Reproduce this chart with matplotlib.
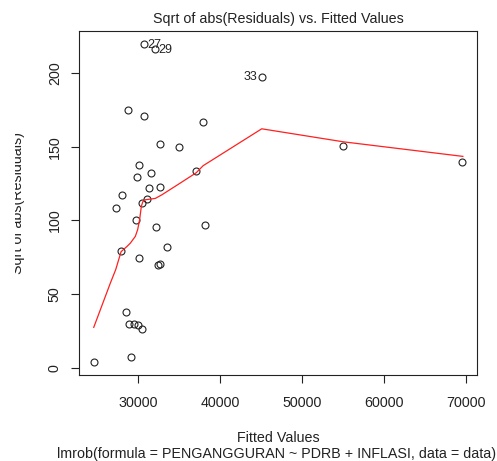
import matplotlib
matplotlib.use("Agg")
import matplotlib.pyplot as plt
from matplotlib.transforms import Bbox

plt.rcParams['font.family'] = ['Liberation Sans', 'DejaVu Sans']

# Fitted values and sqrt(|residuals|)
fitted = [30682, 32107, 45103, 28782, 30767, 37917, 32631, 35030, 30073, 29878,
          31535, 37016, 31340, 32631, 28088, 31096, 30524, 27272, 29756, 32144,
          38161, 27929, 33483, 30073, 32436, 32680, 28538, 28940, 29464, 29951,
          30524, 29099, 24592, 55042, 69585]
sqrt_abs_resid = [219.7, 216.1, 196.9, 175.0, 170.7, 166.9, 151.5, 149.7, 137.3, 129.1,
                  132.1, 133.7, 121.7, 122.6, 117.4, 114.7, 112.0, 108.6, 100.5, 95.7,
                  96.9, 79.5, 82.0, 74.5, 69.5, 70.2, 37.9, 29.8, 30.0, 28.9,
                  26.2, 7.7, 3.8, 150.4, 139.6]

# Smoother (lowess) line
smooth_x = [24592, 26626, 27272, 27929, 28660, 29062, 29671, 29951, 30195, 30402,
            30585, 30889, 32107, 32923, 35152, 37101, 37953, 45103, 55042, 69658]
smooth_y = [27.5, 57.6, 66.6, 78.8, 82.4, 84.6, 89.2, 93.7, 100.5, 109.5,
            112.7, 114.0, 114.9, 117.4, 125.3, 132.3, 137.1, 162.1, 153.3, 143.4]

# Labelled points
id_labels = ["27", "29", "33"]
id_x = [30682, 32107, 45103]
id_y = [219.7, 216.1, 196.9]
id_side = ["right", "right", "left"]

x_ticks = [30000, 40000, 50000, 60000, 70000]
y_ticks = [0, 50, 100, 150, 200]

W, H = 497, 461
fig = plt.figure(figsize=(W / 100, H / 100), dpi=100)
L, R, T, B = 79, 477, 31, 375
ax = fig.add_axes([L / W, 1 - B / H, (R - L) / W, (B - T) / H])

ax.plot(fitted, sqrt_abs_resid, linestyle='none', marker='o', markersize=5.0,
        markerfacecolor='none', markeredgecolor='#222222', markeredgewidth=0.8)
ax.plot(smooth_x, smooth_y, color='#ff2020', linewidth=0.9)

for lab, x, y, side in zip(id_labels, id_x, id_y, id_side):
    if side == "right":
        ax.annotate(lab, (x, y), xytext=(2.5, -0.8), textcoords='offset points',
                    ha='left', va='center', fontsize=9.0, color='#222222')
    else:
        ax.annotate(lab, (x, y), xytext=(-3, 0), textcoords='offset points',
                    ha='right', va='center', fontsize=9.0, color='#222222')

ax.set_xlim(22792, 71385)
ax.set_ylim(-4.8, 228.4)
ax.set_xticks(x_ticks)
ax.set_xticklabels([str(v) for v in x_ticks])
ax.set_yticks(y_ticks)
ax.set_yticklabels([str(v) for v in y_ticks], rotation=90, va='center')

for s in ax.spines.values():
    s.set_color('#222222')
    s.set_linewidth(0.8)
ax.tick_params(direction='out', length=5.8, width=0.8, color='#222222',
               labelsize=10.3, labelcolor='#222222')
ax.tick_params(axis='x', pad=9.5)
ax.tick_params(axis='y', pad=6.5)

def fx(px):
    return px / W

def fy(py):
    return 1 - py / H

fig.text(fx(278), fy(19.3), "Sqrt of abs(Residuals) vs. Fitted Values",
         ha='center', va='center', fontsize=10.3, color='#222222')
fig.text(fx(278), fy(438.3), "Fitted Values",
         ha='center', va='center', fontsize=10.3, color='#222222')
fig.text(fx(277), fy(454), "lmrob(formula = PENGANGGURAN ~ PDRB + INFLASI, data = data)",
         ha='center', va='center', fontsize=10.3, color='#222222')
yl = fig.text(fx(22.5), fy(203), "Sqrt of abs(Residuals)", rotation=90,
              rotation_mode='anchor', ha='center', va='baseline',
              fontsize=10.3, color='#222222')
yl.set_clip_box(Bbox([[15, 0], [W, H]]))
yl.set_clip_on(True)

fig.savefig("out.png", dpi=100)
